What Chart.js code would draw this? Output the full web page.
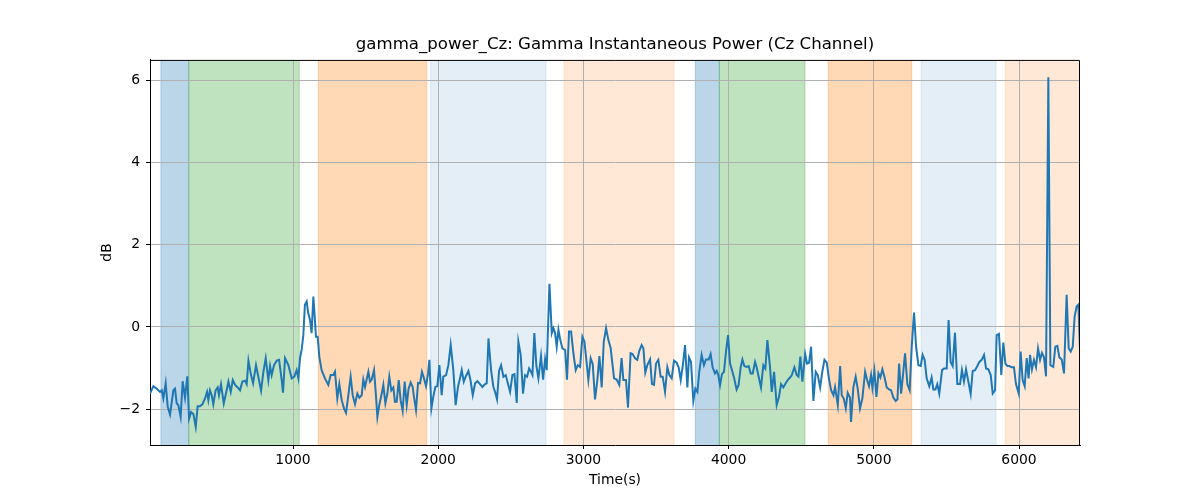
<!DOCTYPE html>
<html>
<head>
<meta charset="utf-8">
<title>gamma_power_Cz</title>
<script src="https://cdn.jsdelivr.net/npm/chart.js@4.4.1/dist/chart.umd.min.js"></script>
<style>
  body { margin: 0; background: #fff; }
  #wrap { width: 1200px; height: 500px; }
</style>
</head>
<body>
<div id="wrap"><canvas id="gammaChart" width="1200" height="500"></canvas></div>
<script>
// time (s) and gamma power (dB)
const times = [
  15, 38, 61, 84, 96, 107, 123, 137, 153, 176, 187, 199, 210, 226, 240, 256, 272, 284, 298, 314,
  330, 343, 359, 376, 394, 408, 417, 428, 440, 451, 467, 481, 490, 504, 523, 543, 555, 571, 585, 601,
  619, 635, 651, 670, 681, 693, 711, 725, 745, 761, 780, 796, 812, 830, 842, 853, 869, 888, 904, 922,
  931, 945, 968, 991, 1009, 1025, 1037, 1048, 1060, 1071, 1082, 1094, 1105, 1117, 1128, 1140, 1151, 1158, 1170, 1181,
  1197, 1220, 1243, 1259, 1278, 1289, 1305, 1319, 1335, 1351, 1365, 1381, 1397, 1411, 1427, 1443, 1457, 1473, 1484, 1496,
  1507, 1519, 1530, 1542, 1558, 1571, 1581, 1594, 1611, 1622, 1636, 1650, 1663, 1677, 1691, 1702, 1714, 1728, 1741, 1755,
  1769, 1783, 1796, 1810, 1824, 1833, 1847, 1861, 1875, 1888, 1902, 1916, 1930, 1939, 1953, 1966, 1980, 1994, 2008, 2024,
  2035, 2054, 2070, 2086, 2104, 2120, 2136, 2150, 2162, 2176, 2189, 2208, 2222, 2238, 2254, 2270, 2288, 2304, 2323, 2334,
  2346, 2364, 2380, 2392, 2405, 2419, 2433, 2449, 2465, 2479, 2495, 2511, 2525, 2541, 2552, 2568, 2584, 2598, 2612, 2626,
  2639, 2649, 2662, 2676, 2690, 2708, 2722, 2736, 2747, 2766, 2782, 2793, 2805, 2816, 2828, 2841, 2855, 2874, 2887, 2901,
  2915, 2931, 2947, 2961, 2977, 2993, 3007, 3023, 3034, 3050, 3064, 3080, 3096, 3110, 3126, 3140, 3156, 3172, 3188, 3194,
  3211, 3229, 3247, 3263, 3275, 3293, 3307, 3325, 3339, 3355, 3371, 3385, 3401, 3413, 3426, 3440, 3459, 3472, 3486, 3500,
  3516, 3532, 3546, 3562, 3578, 3592, 3608, 3624, 3642, 3656, 3670, 3684, 3700, 3716, 3727, 3741, 3757, 3771, 3785, 3798,
  3814, 3830, 3844, 3863, 3876, 3890, 3906, 3918, 3929, 3941, 3954, 3968, 3982, 3996, 4010, 4023, 4037, 4055, 4069, 4083,
  4095, 4108, 4124, 4138, 4152, 4166, 4182, 4193, 4207, 4223, 4239, 4253, 4267, 4285, 4297, 4313, 4331, 4347, 4361, 4377,
  4393, 4407, 4423, 4435, 4453, 4469, 4481, 4494, 4508, 4527, 4540, 4554, 4568, 4584, 4600, 4614, 4630, 4646, 4660, 4676,
  4692, 4706, 4722, 4733, 4752, 4768, 4779, 4793, 4807, 4820, 4836, 4843, 4859, 4875, 4889, 4905, 4921, 4940, 4954, 4967,
  4981, 4990, 5004, 5018, 5032, 5045, 5059, 5073, 5089, 5105, 5119, 5135, 5151, 5163, 5174, 5188, 5202, 5215, 5231, 5247,
  5261, 5277, 5291, 5307, 5323, 5336, 5350, 5364, 5382, 5398, 5410, 5424, 5437, 5451, 5470, 5483, 5502, 5515, 5529, 5543,
  5559, 5575, 5594, 5607, 5621, 5635, 5651, 5667, 5681, 5697, 5713, 5727, 5743, 5759, 5773, 5789, 5805, 5819, 5835, 5846,
  5862, 5878, 5892, 5906, 5920, 5933, 5949, 5965, 5979, 5998, 6011, 6025, 6039, 6053, 6066, 6076, 6089, 6103, 6117, 6131,
  6145, 6158, 6172, 6186, 6202, 6216, 6236, 6250, 6264, 6278, 6294, 6310, 6328, 6342, 6356, 6370, 6383, 6397, 6409, 6420
];
const power = [
  -1.62, -1.44, -1.50, -1.58, -1.54, -1.74, -1.37, -1.94, -2.13, -1.54, -1.50, -1.86, -1.90, -2.19, -1.32, -1.72, -1.20, -2.23, -2.07, -2.12,
  -2.43, -1.93, -1.93, -1.88, -1.74, -1.58, -1.78, -1.54, -1.66, -1.88, -1.54, -1.47, -1.66, -1.39, -1.86, -1.54, -1.33, -1.58, -1.29, -1.41,
  -1.47, -1.54, -1.33, -1.31, -1.39, -0.82, -1.17, -1.37, -0.93, -1.21, -1.55, -1.09, -0.76, -1.29, -0.95, -1.17, -0.93, -0.82, -0.80, -1.29,
  -1.60, -0.76, -0.93, -1.25, -1.21, -1.05, -1.25, -0.76, -0.54, -0.20, 0.54, 0.62, 0.33, 0.17, -0.15, 0.74, 0.17, -0.24, -0.24, -0.72,
  -1.05, -1.25, -1.41, -1.17, -1.17, -1.09, -1.74, -1.39, -1.78, -1.98, -2.09, -1.66, -1.21, -1.66, -1.88, -1.62, -1.72, -1.66, -1.28, -1.46,
  -1.28, -1.09, -1.33, -1.28, -1.05, -1.66, -2.19, -1.90, -1.62, -1.41, -1.86, -1.62, -1.21, -1.54, -1.47, -1.82, -1.82, -1.29, -1.78, -2.04,
  -1.33, -1.90, -1.50, -1.35, -1.46, -1.70, -2.02, -1.36, -1.37, -1.09, -1.25, -1.44, -1.13, -0.80, -1.98, -1.70, -1.46, -1.44, -0.93, -1.66,
  -1.21, -1.17, -0.93, -0.44, -1.05, -1.90, -1.46, -1.25, -1.05, -1.33, -1.21, -1.07, -1.29, -1.66, -1.37, -1.32, -1.39, -1.46, -1.39, -1.37,
  -0.28, -1.05, -1.46, -1.58, -1.76, -1.07, -0.93, -1.21, -1.17, -1.36, -1.58, -1.17, -1.15, -1.85, -0.36, -0.68, -1.62, -1.17, -1.21, -1.01,
  -1.09, -1.17, -0.15, -0.95, -1.25, -0.71, -1.28, -0.79, -1.05, 1.05, -0.15, -0.03, -0.15, -0.48, -0.07, -0.32, -0.52, -0.56, -1.28, -0.11,
  -0.11, -0.64, -1.05, -0.93, -0.97, -0.24, -0.36, -0.89, -1.29, -0.76, -0.90, -1.76, -1.29, -0.71, -1.47, -0.36, -0.03, -0.32, -0.52, -0.72,
  -1.25, -1.28, -1.41, -0.76, -1.29, -1.29, -1.96, -0.64, -0.66, -0.76, -0.80, -0.58, -0.44, -0.52, -1.11, -0.93, -0.79, -1.39, -1.41, -0.89,
  -0.80, -1.21, -1.21, -1.58, -0.98, -1.17, -1.25, -0.82, -0.87, -0.98, -1.29, -0.95, -0.44, -1.47, -0.74, -0.85, -1.80, -1.50, -1.58, -1.09,
  -0.68, -0.93, -0.79, -0.79, -0.66, -0.98, -1.13, -1.07, -1.17, -1.41, -1.15, -1.09, -0.60, -0.20, -0.89, -1.05, -1.23, -1.52, -1.41, -0.98,
  -0.79, -0.95, -0.97, -0.95, -1.13, -1.13, -0.85, -0.98, -1.21, -1.47, -0.93, -1.01, -0.32, -0.97, -1.58, -1.09, -1.90, -1.70, -1.39, -1.47,
  -1.37, -1.29, -1.23, -1.17, -0.98, -1.17, -1.21, -0.72, -1.33, -0.66, -0.89, -0.87, -0.48, -1.80, -1.09, -1.17, -1.47, -1.07, -0.80, -0.87,
  -1.28, -1.54, -1.66, -1.46, -1.90, -0.95, -1.66, -1.74, -1.98, -1.60, -1.72, -2.31, -1.47, -1.21, -1.50, -1.98, -1.74, -1.09, -1.29, -1.44,
  -1.17, -1.47, -1.07, -1.70, -1.13, -1.23, -1.03, -1.21, -1.47, -1.52, -1.54, -1.72, -1.80, -1.76, -0.89, -1.62, -1.13, -0.64, -1.39, -1.54,
  -0.48, 0.35, -0.48, -0.93, -0.95, -0.68, -0.80, -1.25, -1.44, -1.23, -1.52, -1.52, -1.39, -1.62, -1.05, -1.01, -1.01, 0.17, -0.85, -0.95,
  -0.14, -1.39, -1.39, -1.05, -1.33, -1.03, -1.33, -1.63, -1.07, -1.05, -0.95, -0.85, -0.80, -0.68, -1.01, -1.03, -1.17, -1.62, -1.54, -0.20,
  -0.17, -1.17, -0.38, -0.89, -0.95, -0.95, -0.98, -0.98, -1.39, -1.62, -0.60, -1.29, -1.44, -0.76, -1.25, -0.68, -1.03, -0.80, -0.98, -0.52,
  -0.80, -0.63, -0.74, -1.20, 6.07, -0.93, -0.97, -0.48, -0.46, -0.74, -0.79, -1.13, 0.78, -0.52, -0.60, -0.48, 0.25, 0.50, 0.54, -0.56
];

// stimulus blocks (s)
const blockStarts = [90, 282, 1174, 1948, 2866, 3771, 3936, 4686, 5325, 5904];
const blockEnds   = [282, 1043, 1921, 2742, 3624, 3936, 4526, 5261, 5842, 6500];
const blockKinds  = ['blue', 'green', 'orange', 'lightblue', 'lightorange', 'blue', 'green', 'orange', 'lightblue', 'lightorange'];

const xTicks = [1000, 2000, 3000, 4000, 5000, 6000];
const yTicks = [-2, 0, 2, 4, 6];

const blockColors = {
  blue: 'rgba(31, 119, 180, 0.3)',
  green: 'rgba(44, 160, 44, 0.3)',
  orange: 'rgba(255, 127, 14, 0.3)',
  lightblue: 'rgba(31, 119, 180, 0.12)',
  lightorange: 'rgba(255, 127, 14, 0.17)'
};

const spansPlugin = {
  id: 'spans',
  beforeDraw(chart) {
    const { ctx, chartArea, scales } = chart;
    ctx.save();
    ctx.beginPath();
    ctx.rect(chartArea.left, chartArea.top, chartArea.right - chartArea.left, chartArea.bottom - chartArea.top);
    ctx.clip();
    blockStarts.forEach((start, i) => {
      const x0 = scales.x.getPixelForValue(start);
      const x1 = scales.x.getPixelForValue(blockEnds[i]);
      ctx.fillStyle = blockColors[blockKinds[i]];
      ctx.fillRect(x0, chartArea.top, x1 - x0, chartArea.bottom - chartArea.top);
      ctx.strokeStyle = blockColors[blockKinds[i]];
      ctx.lineWidth = 1;
      ctx.strokeRect(x0, chartArea.top - 2, x1 - x0, chartArea.bottom - chartArea.top + 4);
    });
    ctx.restore();
  }
};

// top and right spines (left/bottom come from the axis borders)
const framePlugin = {
  id: 'frame',
  afterDraw(chart) {
    const { ctx, chartArea } = chart;
    ctx.save();
    ctx.strokeStyle = '#000';
    ctx.lineWidth = 1;
    ctx.beginPath();
    ctx.moveTo(chartArea.left, chartArea.top + 0.5);
    ctx.lineTo(chartArea.right - 0.5, chartArea.top + 0.5);
    ctx.lineTo(chartArea.right - 0.5, chartArea.bottom);
    ctx.stroke();
    ctx.restore();
  }
};

function minusSign(value) {
  return String(value).replace('-', '\u2212');
}

Chart.defaults.font.family = '"DejaVu Sans", sans-serif';
Chart.defaults.font.size = 13.9;
Chart.defaults.color = '#000';

const ctx = document.getElementById('gammaChart').getContext('2d');
new Chart(ctx, {
  type: 'line',
  data: {
    datasets: [{
      label: 'gamma_power_Cz',
      data: times.map((t, i) => ({ x: t, y: power[i] })),
      borderColor: '#1f77b4',
      borderWidth: 2,
      pointRadius: 0,
      tension: 0,
      fill: false
    }]
  },
  options: {
    responsive: false,
    animation: false,
    events: [],
    layout: { padding: { left: 92, right: 120, top: 0, bottom: 0 } },
    plugins: {
      legend: { display: false },
      tooltip: { enabled: false },
      title: {
        display: true,
        text: 'gamma_power_Cz: Gamma Instantaneous Power (Cz Channel)',
        font: { size: 16.6, weight: 'normal' },
        padding: { top: 35, bottom: 5 },
        fullSize: false
      }
    },
    scales: {
      x: {
        type: 'linear',
        min: 15,
        max: 6420,
        afterFit(scale) { scale.height = 55; },
        afterBuildTicks(scale) { scale.ticks = xTicks.map(v => ({ value: v })); },
        ticks: { padding: 3, maxRotation: 0, autoSkip: false, callback: v => minusSign(v) },
        grid: { color: '#b0b0b0', tickColor: '#000', tickLength: 4, lineWidth: 1 },
        border: { color: '#000', width: 1 },
        title: { display: true, text: 'Time(s)', padding: { top: 0, bottom: 11 } }
      },
      y: {
        type: 'linear',
        min: -2.87,
        max: 6.49,
        afterFit(scale) { scale.width = 58; },
        afterBuildTicks(scale) { scale.ticks = yTicks.map(v => ({ value: v })); },
        ticks: { padding: 6, autoSkip: false, callback: v => minusSign(v) },
        grid: { color: '#b0b0b0', tickColor: '#000', tickLength: 4, lineWidth: 1 },
        border: { color: '#000', width: 1 },
        title: { display: true, text: 'dB', padding: { top: 7, bottom: 0 } }
      }
    }
  },
  plugins: [spansPlugin, framePlugin]
});
</script>
</body>
</html>
